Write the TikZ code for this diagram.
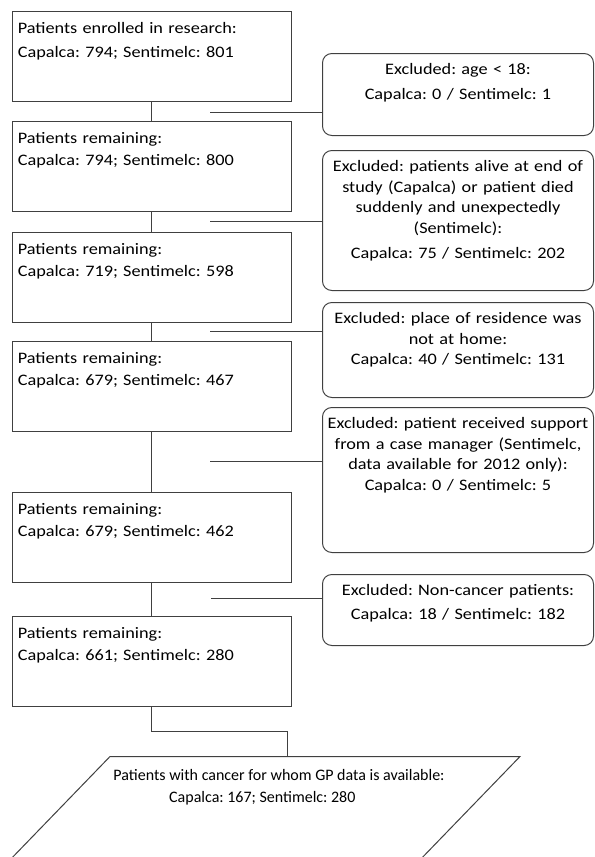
\documentclass[tikz,border=0pt]{standalone}
\usepackage{fontspec}
\setmainfont{Carlito}[FakeStretch=1.14]
\newfontfamily\gpfont{Carlito}
\frenchspacing

\tikzset{
	remaining/.style={draw=black!75, line width=0.75pt, anchor=north west, inner xsep=4.2pt, inner ysep=0pt,
		text width=200.85pt, text height=16.5pt, text depth=51pt, align=left,
		font=\fontsize{12}{16.5}\selectfont},
	excluded/.style={draw=black!75, line width=0.75pt, rounded corners=7pt, anchor=north west, inner xsep=2pt, inner ysep=0pt,
		text width=199.25pt, text height=16pt, align=center,
		font=\fontsize{12}{15.4}\selectfont},
	link/.style={draw=black!75, line width=0.75pt},
}

\begin{document}
\begin{tikzpicture}[x=0.75pt, y=-0.75pt]
		\useasboundingbox (0,0) rectangle (594,857);
		\clip (0,0) rectangle (594,857);
		% patients left after each step
		\node[remaining] (r1) at (11.7, 11.0) {Patients enrolled in research:\\[1.2pt] Capalca: 794; Sentimelc: 801};
		\node[remaining] (r2) at (11.7, 121.0) {Patients remaining:\\ Capalca: 794; Sentimelc: 800};
		\node[remaining] (r3) at (11.7, 231.7) {Patients remaining:\\ Capalca: 719; Sentimelc: 598};
		\node[remaining] (r4) at (11.7, 341.0) {Patients remaining:\\ Capalca: 679; Sentimelc: 467};
		\node[remaining] (r5) at (11.7, 491.7) {Patients remaining:\\ Capalca: 679; Sentimelc: 462};
		\node[remaining] (r6) at (11.7, 615.7) {Patients remaining:\\ Capalca: 661; Sentimelc: 280};
		% exclusions
		\node[excluded, text depth=45.5pt] (x1) at (322, 53) {Excluded: age < 18:\\[3pt] Capalca: 0 / Sentimelc: 1};
		\node[excluded, text depth=89pt] (x2) at (322, 150) {Excluded: patients alive at end of\\ study (Capalca) or patient died\\ suddenly and unexpectedly\\ (Sentimelc):\\[3.5pt] Capalca: 75 / Sentimelc: 202};
		\node[excluded, text depth=55.25pt] (x3) at (322, 302) {Excluded: place of residence was\\ not at home:\\ Capalca: 40 / Sentimelc: 131};
		\node[excluded, text depth=92.75pt] (x4) at (322, 407) {Excluded: patient received support\\ from a case manager (Sentimelc,\\ data available for 2012 only):\\ Capalca: 0 / Sentimelc: 5};
		\node[excluded, text depth=37.25pt] (x5) at (322, 574) {Excluded: Non-cancer patients:\\[2.5pt] Capalca: 18 / Sentimelc: 182};
		% final selection (parallelogram, cut off by the page edge)
		\coordinate (gp) at (110, 756.5);
		\draw[link] (gp) -- ++(410, 0) -- ++(-118, 122) -- ++(-410, 0) -- cycle;
		\node[font=\gpfont\fontsize{12}{16.3}\selectfont, align=center] (gplabel) at (279, 787) {Patients with cancer for whom GP data is available:\\ Capalca: 167; Sentimelc: 280\hspace*{25pt}};

		\foreach \a/\b in {r1/r2, r2/r3, r3/r4, r4/r5, r5/r6}
			\draw[link] (\a.south) -- (\b.north);

		\coordinate (s1) at (210, 112.0);
		\coordinate (s2) at (210, 221.5);
		\coordinate (s3) at (210, 331.0);
		\coordinate (s4) at (210, 461.0);
		\coordinate (s5) at (211, 598.0);
		\foreach \s/\x in {s1/x1, s2/x2, s3/x3, s4/x4, s5/x5}
			\draw[link] (\s) -- (\s -| \x.west);

		\coordinate (bend) at (287, 731.5);
		\draw[link] (r6.south) |- (bend) -- (bend |- gp);
	\end{tikzpicture}
\end{document}
